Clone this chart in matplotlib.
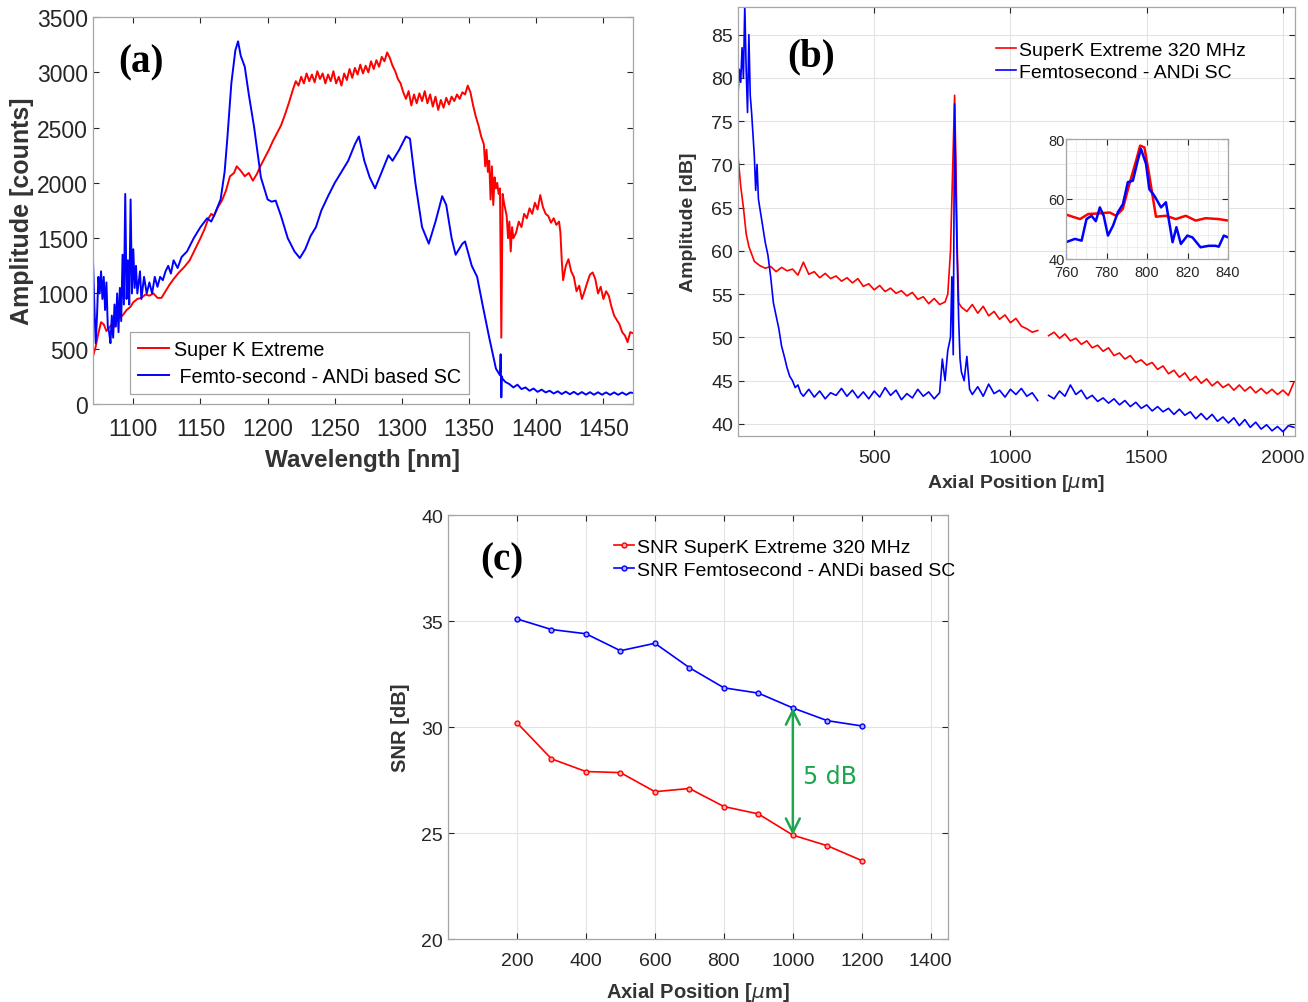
import numpy as np
import matplotlib
matplotlib.use("Agg")
import matplotlib.pyplot as plt
from matplotlib.ticker import AutoMinorLocator

plt.rcParams['font.family'] = ['Liberation Sans', 'DejaVu Sans']
plt.rcParams['mathtext.fontset'] = 'dejavusans'

RED = '#ff0000'
BLUE = '#0000ff'
GREEN = '#1ea64e'
TXT = '#262626'
SPINE = '#a6a6a6'

# ---- (a) spectra ----
sk_wl = [1070, 1072, 1074, 1076, 1078, 1080, 1082, 1084, 1086, 1088, 1090, 1092, 1095, 1098,
         1100, 1103, 1106, 1109, 1112, 1115, 1118, 1121, 1124, 1127, 1130, 1134, 1138, 1142,
         1146, 1150, 1153, 1156, 1158, 1160, 1163, 1166, 1169, 1172, 1175, 1177, 1180, 1183,
         1186, 1189, 1192, 1195, 1198, 1201, 1204, 1207, 1210, 1213, 1216, 1219, 1221, 1223,
         1225, 1227, 1229, 1231, 1233, 1235, 1237, 1239, 1241, 1243, 1245, 1247, 1249, 1251,
         1253, 1255, 1257, 1259, 1261, 1263, 1265, 1267, 1269, 1271, 1273, 1275, 1277, 1279,
         1281, 1283, 1285, 1287, 1289, 1291, 1293, 1295, 1297, 1299, 1301, 1303, 1305, 1307,
         1309, 1311, 1313, 1315, 1317, 1319, 1321, 1323, 1325, 1327, 1329, 1331, 1333, 1335,
         1337, 1339, 1341, 1343, 1345, 1347, 1349, 1351, 1353, 1355, 1357, 1359, 1361, 1362,
         1363, 1364, 1365, 1366, 1367, 1368, 1369, 1370, 1371, 1372, 1373, 1374, 1375, 1376,
         1378, 1379, 1380, 1381, 1382, 1383, 1385, 1387, 1389, 1391, 1393, 1395, 1397, 1399,
         1401, 1403, 1405, 1407, 1409, 1411, 1413, 1415, 1417, 1418, 1419, 1420, 1422, 1424,
         1426, 1428, 1430, 1432, 1434, 1436, 1438, 1440, 1442, 1444, 1446, 1448, 1450, 1452,
         1454, 1456, 1458, 1460, 1462, 1464, 1466, 1468, 1470, 1472]
sk_amp = [430, 520, 640, 740, 720, 660, 690, 720, 700, 760, 790, 800, 850, 880,
          920, 950, 960, 990, 980, 1000, 960, 960, 1020, 1080, 1130, 1190, 1240, 1300,
          1400, 1500, 1580, 1680, 1720, 1700, 1780, 1840, 1930, 2060, 2090, 2150, 2110, 2060,
          2090, 2020, 2080, 2160, 2230, 2300, 2380, 2450, 2520, 2620, 2730, 2850, 2920, 2880,
          2960, 2900, 2990, 2920, 2980, 2910, 3010, 2940, 2990, 2900, 2980, 2920, 3010, 2900,
          2960, 2880, 2990, 2930, 3030, 2950, 3040, 2980, 3070, 2990, 3060, 3000, 3100, 3030,
          3110, 3050, 3140, 3100, 3180, 3130, 3060, 3010, 2940, 2900, 2820, 2760, 2830, 2700,
          2800, 2720, 2810, 2740, 2830, 2720, 2800, 2690, 2780, 2660, 2750, 2680, 2770, 2710,
          2780, 2740, 2800, 2760, 2820, 2800, 2880, 2820, 2700, 2600, 2520, 2420, 2350, 2150,
          2300, 2100, 2200, 1850, 2150, 1800, 2050, 1950, 2000, 1900, 1950, 600, 1900, 1820,
          1700, 1500, 1650, 1380, 1600, 1500, 1550, 1650, 1600, 1720, 1680, 1770, 1720, 1820,
          1760, 1890, 1780, 1720, 1700, 1640, 1680, 1620, 1650, 1550, 1300, 1120, 1250, 1310,
          1200, 1150, 1020, 1070, 950, 1020, 1100, 1170, 1190, 1130, 1000, 1060, 950, 1020,
          980, 880, 800, 760, 720, 650, 620, 560, 650, 640]

fs_wl = [1070, 1071, 1072, 1073, 1074, 1075, 1076, 1077, 1078, 1079,
         1080, 1081, 1082, 1083, 1084, 1085, 1086, 1087, 1088, 1089,
         1090, 1091, 1092, 1093, 1094, 1095, 1096, 1097, 1098, 1099,
         1100, 1101, 1102, 1103, 1105, 1106, 1108, 1110, 1112, 1114,
         1116, 1118, 1120, 1122, 1124, 1126, 1128, 1130, 1133, 1136,
         1140, 1145, 1150, 1155, 1158, 1160, 1165, 1168, 1170, 1173,
         1176, 1178, 1180, 1183, 1186, 1190, 1195, 1200, 1203, 1206,
         1210, 1215, 1220, 1224, 1228, 1232, 1236, 1240, 1245, 1250,
         1255, 1260, 1265, 1268, 1272, 1276, 1280, 1285, 1290, 1293,
         1298, 1303, 1306, 1310, 1315, 1320, 1325, 1330, 1333, 1337,
         1340, 1345, 1347, 1352, 1356, 1360, 1365, 1370, 1373, 1373.5,
         1374, 1374.4, 1374.8, 1377, 1380, 1383, 1386, 1389, 1392, 1395,
         1398, 1401, 1404, 1407, 1410, 1413, 1416, 1419, 1422, 1425,
         1428, 1431, 1434, 1437, 1440, 1443, 1446, 1449, 1452, 1455,
         1458, 1461, 1464, 1467, 1470, 1472]
fs_amp = [1300, 900, 550, 800, 1150, 1000, 1200, 950, 1150, 850,
          1100, 700, 650, 550, 800, 600, 900, 700, 1000, 650,
          1050, 750, 1350, 900, 1900, 950, 1300, 900, 1850, 1000,
          1400, 1050, 1250, 1000, 1200, 950, 1150, 1000, 1100, 1000,
          1150, 1060, 1150, 1120, 1200, 1250, 1180, 1300, 1230, 1330,
          1380, 1500, 1600, 1680, 1650, 1700, 1850, 2100, 2400, 2900,
          3200, 3280, 3150, 3050, 2800, 2500, 2050, 1850, 1830, 1840,
          1700, 1500, 1380, 1320, 1400, 1520, 1600, 1750, 1880, 2000,
          2100, 2200, 2350, 2420, 2200, 2050, 1950, 2100, 2250, 2200,
          2300, 2420, 2400, 2000, 1600, 1450, 1650, 1880, 1800, 1500,
          1350, 1450, 1470, 1250, 1150, 900, 600, 320, 260, 450,
          60, 250, 230, 200, 180, 150, 175, 135, 150, 120,
          140, 110, 130, 105, 120, 95, 115, 90, 112, 88,
          110, 86, 108, 85, 107, 84, 106, 84, 105, 83,
          105, 83, 104, 83, 104, 100]

# ---- (b) axial PSF ----
pos_sk = [0, 10, 20, 30, 40, 60, 80, 100, 120, 140,
          160, 180, 200, 220, 240, 260, 280, 300, 320, 340,
          360, 380, 400, 420, 440, 460, 480, 500, 520, 540,
          560, 580, 600, 620, 640, 660, 680, 700, 720, 740,
          760, 770, 780, 790, 795, 800, 805, 810, 820, 840,
          860, 880, 900, 920, 940, 960, 980, 1000, 1020, 1040,
          1060, 1080, 1100, 1110, 1140, 1160, 1180, 1200, 1220, 1240,
          1260, 1280, 1300, 1320, 1340, 1360, 1380, 1400, 1420, 1440,
          1460, 1480, 1500, 1520, 1540, 1560, 1580, 1600, 1620, 1640,
          1660, 1680, 1700, 1720, 1740, 1760, 1780, 1800, 1820, 1840,
          1860, 1880, 1900, 1920, 1940, 1960, 1980, 2000, 2020, 2040]
amp_sk = [71, 67.5, 65, 62, 60.5, 58.8, 58.3, 58, 58.2, 57.6,
          58.1, 57.7, 57.9, 57.2, 58.7, 57.3, 57.6, 56.9, 57.4, 56.8,
          57.1, 56.5, 56.9, 56.3, 56.8, 55.9, 56.2, 55.5, 56, 55.3,
          55.7, 55.1, 55.4, 54.8, 55.2, 54.4, 54.7, 53.9, 54.5, 53.8,
          54.1, 55, 60, 72, 78, 70, 60, 54, 53.5, 53,
          53.8, 52.8, 53.6, 52.5, 53, 52.1, 52.6, 51.7, 52.2, 51.3,
          51, 50.6, 50.8, np.nan, 50.2, 50.6, 49.9, 50.4, 49.6, 49.9,
          49.2, 49.6, 48.8, 49.1, 48.4, 48.8, 47.9, 48.2, 47.5, 47.9,
          47.1, 47.4, 46.8, 47.1, 46.3, 46.7, 45.8, 46.2, 45.4, 45.9,
          45, 45.5, 44.7, 45.2, 44.4, 44.9, 44.2, 44.6, 43.9, 44.5,
          43.8, 44.3, 43.6, 44.1, 43.5, 44, 43.4, 43.9, 43.3, 44.8]

pos_fs = [0, 5, 10, 15, 20, 25, 30, 35, 40, 45,
          50, 55, 60, 65, 70, 75, 80, 90, 100, 110,
          120, 130, 140, 150, 160, 170, 180, 190, 200, 210,
          220, 230, 240, 260, 280, 300, 320, 340, 360, 380,
          400, 420, 440, 460, 480, 500, 520, 540, 560, 580,
          600, 620, 640, 660, 680, 700, 720, 740, 750, 760,
          770, 780, 785, 790, 795, 800, 805, 810, 815, 820,
          830, 840, 850, 860, 880, 900, 920, 940, 960, 980,
          1000, 1020, 1040, 1060, 1080, 1100, 1110, 1140, 1160, 1180,
          1200, 1220, 1240, 1260, 1280, 1300, 1320, 1340, 1360, 1380,
          1400, 1420, 1440, 1460, 1480, 1500, 1520, 1540, 1560, 1580,
          1600, 1620, 1640, 1660, 1680, 1700, 1720, 1740, 1760, 1780,
          1800, 1820, 1840, 1860, 1880, 1900, 1920, 1940, 1960, 1980,
          2000, 2020, 2040]
amp_fs = [78, 81, 79.5, 83.5, 80, 88.5, 81, 76, 85, 78,
          76, 73.5, 71, 67, 70, 66, 65, 63, 61, 59.5,
          57, 54, 52.5, 51, 49, 47.8, 46.5, 45.5, 45, 44.2,
          44.5, 43.6, 43.2, 44, 43.1, 43.8, 42.9, 43.6, 43.3, 44.1,
          43.2, 43.9, 43, 43.7, 42.9, 43.8, 43.1, 44.2, 43.3, 43.9,
          42.8, 43.5, 43, 44, 43.2, 43.7, 42.9, 43.6, 47.5, 45,
          48.5, 50, 57, 48, 77, 66, 58.5, 52, 47.5, 46,
          45, 47.8, 44, 43.4, 44.3, 43.2, 44.6, 43.5, 43.9, 43.1,
          44, 43.4, 44.1, 43.2, 43.6, 42.7, np.nan, 43.3, 42.9, 43.8,
          43.2, 44.5, 43.4, 43.9, 42.9, 43.3, 42.6, 43, 42.4, 42.9,
          42.2, 42.7, 42, 42.5, 41.8, 42.2, 41.5, 42, 41.4, 41.8,
          41.1, 41.7, 41, 41.4, 40.6, 41.2, 40.5, 41.1, 40.3, 40.8,
          40.1, 40.7, 39.8, 40.5, 39.6, 40.2, 39.4, 39.9, 39.2, 39.7,
          39.1, 39.8, 39.6]

# inset (zoom around the reflector)
zin_sk = [760, 766.9, 771, 776.6, 781.5, 784.8, 788, 791.3, 794.6, 796.6,
          798.7, 801, 804.4, 809.3, 814.2, 819.1, 824, 828.9, 835.4, 840]
zamp_sk = [54.8, 53.3, 55, 55.2, 55.5, 54.4, 56.7, 65, 72.8, 77.8,
           77.2, 68.3, 54.1, 54.4, 53.3, 54.4, 52.8, 53.6, 53.3, 52.8]
zin_fs = [760, 764.4, 767.7, 770.1, 772.6, 774.7, 776.7, 778.6, 780.7, 783.2,
          785.6, 788.1, 790.5, 793, 795.4, 797, 799.5, 801.1, 803.6, 806.9,
          809.3, 812.6, 814.5, 816.7, 819.9, 822.4, 826.4, 830.5, 833.8, 835.4,
          837.9, 840]
zamp_fs = [45.6, 46.7, 46.1, 53.3, 54.4, 52.6, 57.2, 54.4, 47.8, 51.1,
           55.6, 58.3, 65.6, 66.1, 72.8, 76.7, 71.7, 63.3, 61.1, 57.2,
           58.9, 45.6, 50.6, 45, 47.8, 47.2, 43.9, 44.4, 44.4, 44.1,
           47.8, 47.2]

# ---- (c) SNR ----
snr_pos = [200, 300, 400, 500, 600, 700, 800, 900, 1000, 1100, 1200]
snr_sk = [30.2, 28.5, 27.9, 27.85, 26.95, 27.1, 26.25, 25.9, 24.9, 24.4, 23.7]
snr_fs = [35.1, 34.6, 34.4, 33.6, 33.95, 32.8, 31.85, 31.6, 30.9, 30.3, 30.05]


def style(ax, fs, grid=True):
    ax.tick_params(direction='in', top=True, right=True, labelsize=fs, colors=TXT,
                   length=4, width=0.8)
    for s in ax.spines.values():
        s.set_color(SPINE)
        s.set_linewidth(0.9)
    if grid:
        ax.grid(True, color='#e3e3e3', linewidth=0.8)
        ax.set_axisbelow(True)


fig = plt.figure(figsize=(13.08, 10.03), dpi=100)

# (a)
axa = fig.add_axes((0.0711, 0.5962, 0.4128, 0.3858))
axa.plot(sk_wl, sk_amp, color=RED, lw=1.4, label='Super K Extreme')
axa.plot(fs_wl, fs_amp, color=BLUE, lw=1.4, label=' Femto-second - ANDi based SC')
axa.set_xlim(1070, 1472)
axa.set_ylim(0, 3500)
axa.set_xticks(range(1100, 1451, 50))
axa.set_yticks(range(0, 3501, 500))
style(axa, 16.5, grid=False)
axa.tick_params(axis='x', pad=9)
axa.set_xlabel('Wavelength [nm]', fontsize=17.5, fontweight='bold', color='#333333', labelpad=6)
axa.set_ylabel('Amplitude [counts]', fontsize=18, fontweight='bold', color='#333333', labelpad=2)
leg = axa.legend(loc='lower left', bbox_to_anchor=(0.05, 0.0), fontsize=14.2,
                 fancybox=False, edgecolor=SPINE, framealpha=1, handlelength=1.6,
                 handletextpad=0.25, borderpad=0.4, labelspacing=0.4)
leg.get_frame().set_linewidth(0.9)
axa.text(0.046, 0.885, '(a)', transform=axa.transAxes, fontsize=28, fontweight='bold',
         family='Liberation Serif', va='center')

# (b)
axb = fig.add_axes((0.5642, 0.5643, 0.4258, 0.4277))
axb.plot(pos_sk, amp_sk, color=RED, lw=1.2, label='SuperK Extreme 320 MHz')
axb.plot(pos_fs, amp_fs, color=BLUE, lw=1.2, label='Femtosecond - ANDi SC')
axb.set_xlim(0, 2044)
axb.set_ylim(38.6, 88.2)
axb.set_xticks([500, 1000, 1500, 2000])
axb.set_yticks(range(40, 86, 5))
style(axb, 14)
axb.tick_params(axis='x', pad=9)
axb.set_xlabel(r'Axial Position [$\mu$m]', fontsize=14, fontweight='bold', color='#333333',
               labelpad=5)
axb.set_ylabel('Amplitude [dB]', fontsize=14, fontweight='bold', color='#333333', labelpad=10)
axb.legend(loc='upper left', bbox_to_anchor=(0.443, 0.948), fontsize=14, frameon=False,
           handlelength=1.0, handletextpad=0.15, labelspacing=0.25, borderaxespad=0.2)
axb.text(0.089, 0.885, '(b)', transform=axb.transAxes, fontsize=28, fontweight='bold',
         family='Liberation Serif', va='center')

# inset
axi = fig.add_axes((0.815, 0.7408, 0.1239, 0.1196))
axi.plot(zin_sk, zamp_sk, color=RED, lw=1.8)
axi.plot(zin_fs, zamp_fs, color=BLUE, lw=1.8)
axi.set_xlim(760, 840)
axi.set_ylim(40, 80)
axi.set_xticks(range(760, 841, 20))
axi.set_yticks([40, 60, 80])
axi.xaxis.set_minor_locator(AutoMinorLocator(4))
axi.yaxis.set_minor_locator(AutoMinorLocator(5))
style(axi, 10.5)
axi.grid(True, which='minor', color='#ececec', linewidth=0.6)
axi.tick_params(which='minor', length=0)
axi.tick_params(axis='y', pad=1)
axi.tick_params(axis='x', pad=4.5)

# (c)
axc = fig.add_axes((0.3425, 0.0628, 0.3823, 0.4227))
axc.plot(snr_pos, snr_sk, color=RED, lw=1.2, marker='o', ms=3.5, mfc='#ffb0b0',
         mew=1, label='SNR SuperK Extreme 320 MHz')
axc.plot(snr_pos, snr_fs, color=BLUE, lw=1.2, marker='o', ms=3.5, mfc='#b0b0ff',
         mew=1, label='SNR Femtosecond - ANDi based SC')
axc.set_xlim(0, 1450)
axc.set_ylim(20, 40)
axc.set_xticks(range(200, 1401, 200))
axc.set_yticks(range(20, 41, 5))
style(axc, 14)
axc.tick_params(axis='x', pad=9)
axc.set_xlabel(r'Axial Position [$\mu$m]', fontsize=14.5, fontweight='bold', color='#333333',
               labelpad=8)
axc.set_ylabel('SNR [dB]', fontsize=14.5, fontweight='bold', color='#333333', labelpad=8)
axc.legend(loc='upper left', bbox_to_anchor=(0.309, 0.972), fontsize=14, frameon=False,
           handlelength=1.0, handletextpad=0.15, labelspacing=0.25, borderaxespad=0.2)
axc.annotate('', xy=(1000, snr_fs[8]), xytext=(1000, snr_sk[8]),
             arrowprops=dict(arrowstyle='<->', color=GREEN, lw=1.8, mutation_scale=25,
                             shrinkA=0, shrinkB=0))
axc.text(1030, 27.7, '5 dB', color=GREEN, fontsize=17, family='DejaVu Sans', va='center')
axc.text(0.064, 0.893, '(c)', transform=axc.transAxes, fontsize=28, fontweight='bold',
         family='Liberation Serif', va='center')

fig.savefig('out.png', dpi=100)
